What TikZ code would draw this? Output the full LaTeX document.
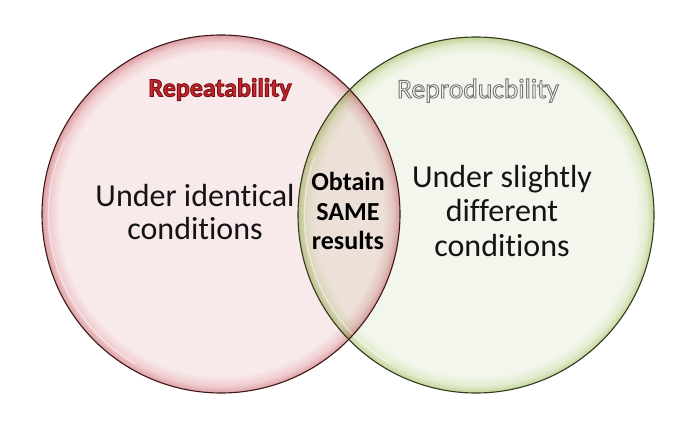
\documentclass[tikz,border=0pt]{standalone}
\usepackage{fontspec}
\setmainfont{Carlito}[RawFeature=-liga]
\definecolor{pinkin}{HTML}{F8E9EA}
\definecolor{pinkmid}{HTML}{F0CDD0}
\definecolor{pinkrim}{HTML}{DCA0A4}
\definecolor{pinkedge}{HTML}{3E1818}
\definecolor{greenin}{HTML}{F3F6EC}
\definecolor{greenmid}{HTML}{E3ECD0}
\definecolor{greenrim}{HTML}{C2D499}
\definecolor{greenedge}{HTML}{343A1C}
\definecolor{titlered}{HTML}{C4262E}
\pgfdeclareradialshading{pinkball}{\pgfpoint{0bp}{0bp}}{color(0bp)=(pinkin); color(22.6bp)=(pinkin); color(24.0bp)=(pinkmid); color(25bp)=(pinkrim); color(50bp)=(pinkrim)}
\pgfdeclareradialshading{greenball}{\pgfpoint{0bp}{0bp}}{color(0bp)=(greenin); color(22.6bp)=(greenin); color(24.0bp)=(greenmid); color(25bp)=(greenrim); color(50bp)=(greenrim)}
% outlined text: fill colour from \color, stroke set by PDF literal
\newcommand{\outlined}[2]{{\special{pdf:literal direct q #1 RG 0.9 w 2 Tr}#2\special{pdf:literal direct 0 Tr Q}}}
\tikzset{
  bodytext/.style={font=\fontsize{32}{33.5}\selectfont, text=black!92, align=center, inner sep=0pt},
  midtext/.style={font=\bfseries\fontsize{26}{29.5}\selectfont, text=black, align=center, inner sep=0pt},
  edge/.style={line width=1.1pt},
  glint/.style={white, opacity=0.45, line width=1.4pt, line cap=round},
}
\begin{document}
\begin{tikzpicture}[x=1pt,y=-1pt]
\useasboundingbox[fill=white] (0,0) rectangle (691,422);
% circles
\coordinate (lc) at (221,214);
\coordinate (rc) at (476,215);
\shade[shading=pinkball] (lc) circle[radius=179];
\draw[glint] (lc) ++(120:172.5) arc[start angle=120, end angle=205, radius=172.5];
\begin{scope}[blend mode=multiply]
\shade[shading=greenball] (rc) circle[radius=178];
\end{scope}
\draw[glint] (rc) ++(120:171.5) arc[start angle=120, end angle=200, radius=171.5];
\draw[edge, pinkedge] (lc) circle[radius=179];
\draw[edge, greenedge] (rc) circle[radius=178];
% titles
\node[anchor=base, inner sep=0pt, text=titlered, font=\bfseries\fontsize{26}{26}\selectfont] (t1) at (220,96.5) {\outlined{0.48 0.06 0.08}{Repeatability}};
\node[anchor=base, inner sep=0pt, text=white!96!black, font=\fontsize{27.5}{27.5}\selectfont] (t2) at (478,98) {\outlined{0.45 0.45 0.45}{Reproducbility}};
% body texts (base anchor = baseline of last line)
\node[bodytext, anchor=base] (a) at (195,240) {Under identical\\conditions};
\node[midtext, anchor=base] (b) at (348,250) {Obtain\\SAME\\results};
\node[bodytext, anchor=base, font=\fontsize{32}{35}\selectfont] (c) at (502,257) {Under slightly\\different\\conditions};
\end{tikzpicture}
\end{document}
